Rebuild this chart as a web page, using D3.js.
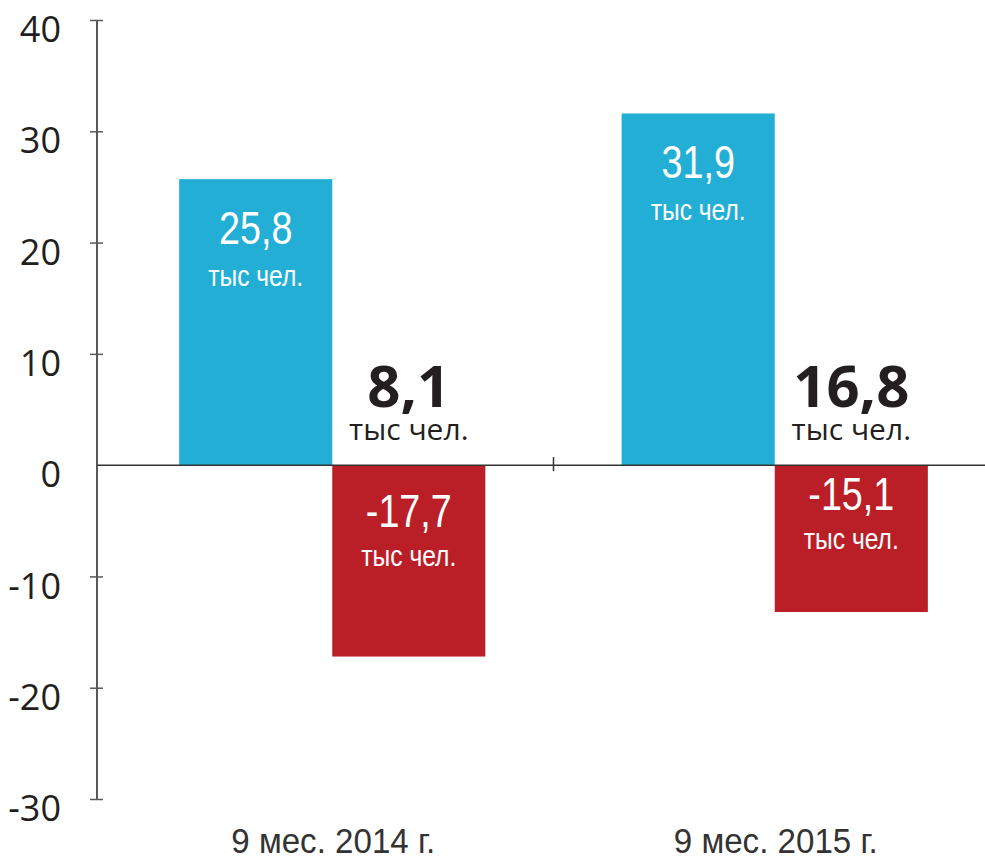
<!DOCTYPE html>
<html>
<head>
<meta charset="utf-8">
<script src="https://cdn.jsdelivr.net/npm/d3@7"></script>
<style>
  body { margin: 0; background: #fff; }
  svg { display: block; }
</style>
</head>
<body>
<div id="chart"></div>
<script>
// data
const categories = ["9 мес. 2014 г.", "9 мес. 2015 г."];
const arrivals = [25.7, 31.6];        // blue bars, as drawn
const departures = [-17.2, -13.2];    // red bars, as drawn
const arrivalLabels = ["25,8", "31,9"];
const departureLabels = ["-17,7", "-15,1"];
const netLabels = ["8,1", "16,8"];
const unitLabel = "тыс чел.";
const yTicks = [-30, -20, -10, 0, 10, 20, 30, 40];

const width = 985, height = 861;
const blue = "#23afd5", red = "#ba1f28", ink = "#231f20";
const thin = "'Liberation Sans', Arial, sans-serif";
const sans = "'Open Sans', 'Noto Sans', sans-serif";
const squeeze = 0.82; // the white labels use a narrow face in the original

const svg = d3.select("#chart")
    .append("svg")
    .attr("width", width)
    .attr("height", height);

const axisX = 97;

const y = d3.scaleLinear()
    .domain([-30, 40])
    .range([799, 20]);

const x = d3.scaleBand()
    .domain(categories)
    .range([111, 996])
    .padding(0);

const barW = x.bandwidth() * 0.346;

// y axis
const yAxis = svg.append("g")
    .attr("transform", `translate(${axisX},0)`)
    .call(d3.axisLeft(y).tickValues(yTicks).tickSize(7).tickPadding(0).tickFormat(d => String(d)));

yAxis.select(".domain")
    .attr("d", `M0,${y(40)}V${y(-30)}`)
    .attr("stroke", "#58595b")
    .attr("stroke-width", 2);
yAxis.selectAll(".tick line")
    .attr("x1", -7).attr("x2", 6)
    .attr("stroke", "#58595b")
    .attr("stroke-width", 1.5);
yAxis.selectAll(".tick text")
    .attr("x", -36)
    .attr("dy", "0.6em")
    .attr("fill", ink)
    .style("font-family", sans)
    .style("font-size", "36px");
yAxis.selectAll(".tick").filter(d => d === 0).select("line").remove();

// bars
const rows = categories.map((c, i) => ({
    cat: c, up: arrivals[i], down: departures[i],
    upLabel: arrivalLabels[i], downLabel: departureLabels[i], net: netLabels[i], i
}));
const center = d => x(d.cat) + x.bandwidth() / 2;

svg.selectAll("rect.up")
    .data(rows)
    .join("rect")
    .attr("class", "up")
    .attr("x", d => center(d) - barW)
    .attr("y", d => y(d.up))
    .attr("width", barW)
    .attr("height", d => y(0) - y(d.up))
    .attr("fill", blue);

svg.selectAll("rect.down")
    .data(rows)
    .join("rect")
    .attr("class", "down")
    .attr("x", d => center(d))
    .attr("y", y(0))
    .attr("width", barW)
    .attr("height", d => y(d.down) - y(0))
    .attr("fill", red);

// zero line and middle tick
svg.append("line")
    .attr("x1", axisX).attr("x2", width)
    .attr("y1", y(0)).attr("y2", y(0))
    .attr("stroke", "#333")
    .attr("stroke-width", 1.5);
svg.append("line")
    .attr("x1", x.range()[0] + x.bandwidth()).attr("x2", x.range()[0] + x.bandwidth())
    .attr("y1", y(0) - 8).attr("y2", y(0) + 6)
    .attr("stroke", "#333")
    .attr("stroke-width", 1.5);

// white labels, squeezed horizontally
const upCx = d => center(d) - barW / 2;
const downCx = d => center(d) + barW / 2;

function whiteText(cls, px, py, size, txt) {
    svg.selectAll("text." + cls)
        .data(rows).join("text")
        .attr("class", cls)
        .attr("transform", d => `translate(${px(d)},${py(d)}) scale(${squeeze},1)`)
        .attr("text-anchor", "middle")
        .attr("fill", "#fff")
        .style("font-family", thin)
        .style("font-size", size + "px")
        .text(txt);
}

whiteText("upv", upCx, d => y(d.up) + 65, 46, d => d.upLabel);
whiteText("upu", upCx, d => y(d.up) + 107, 30, unitLabel);

const redDy = [62, 45];
whiteText("downv", downCx, d => y(0) + redDy[d.i], 46, d => d.downLabel);
whiteText("downu", downCx, d => y(0) + redDy[d.i] + 39, 30, unitLabel);

// net change above the red bars
svg.selectAll("text.net")
    .data(rows).join("text")
    .attr("class", "net")
    .attr("x", downCx)
    .attr("y", y(0) - 58)
    .attr("text-anchor", "middle")
    .attr("fill", ink)
    .style("font-family", sans)
    .style("font-weight", "bold")
    .style("font-size", "58px")
    .text(d => d.net);

svg.selectAll("text.netu")
    .data(rows).join("text")
    .attr("class", "netu")
    .attr("x", downCx)
    .attr("y", y(0) - 25)
    .attr("text-anchor", "middle")
    .attr("fill", ink)
    .style("font-family", sans)
    .style("font-size", "30px")
    .text(unitLabel);

// category labels
svg.selectAll("text.cat")
    .data(rows).join("text")
    .attr("class", "cat")
    .attr("x", d => center(d) + 1)
    .attr("y", 853)
    .attr("text-anchor", "middle")
    .attr("fill", "#333")
    .attr("textLength", 204)
    .attr("lengthAdjust", "spacingAndGlyphs")
    .style("font-family", thin)
    .style("font-size", "35px")
    .text(d => d.cat);
</script>
</body>
</html>
